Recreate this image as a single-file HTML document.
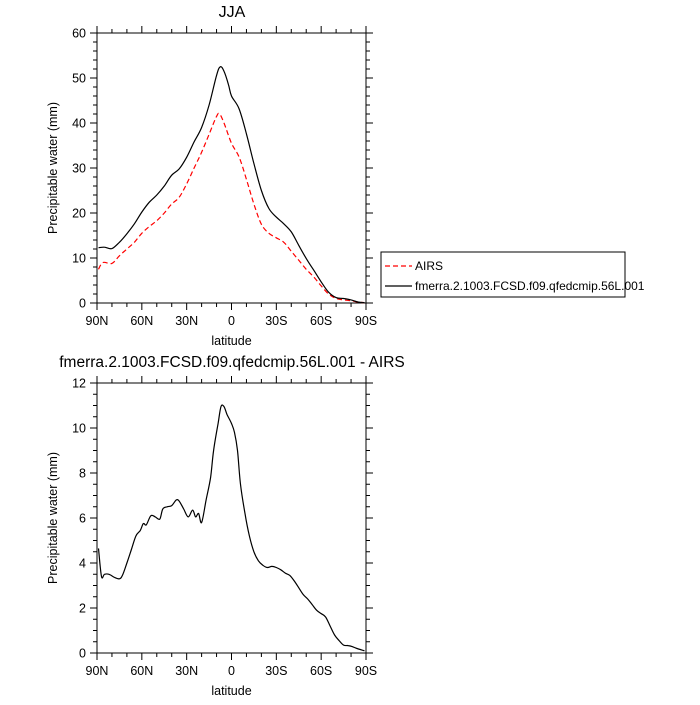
<!DOCTYPE html>
<html><head><meta charset="utf-8"><style>
body{margin:0;background:#fff}
svg text{font-family:"Liberation Sans",sans-serif;fill:#000}
</style></head><body>
<svg id="chart" width="700" height="700" viewBox="0 0 700 700">
<text x="232" y="17" font-size="16" text-anchor="middle">JJA</text>
<text x="232" y="367" font-size="15.5" text-anchor="middle">fmerra.2.1003.FCSD.f09.qfedcmip.56L.001 - AIRS</text>
<g id="top"></g>
<g id="bot"></g>
<g>
<rect x="381" y="252" width="244" height="45" fill="none" stroke="#000" stroke-width="1"/>
<line x1="385" y1="266" x2="412" y2="266" stroke="#f00" stroke-width="1.2" stroke-dasharray="5,3"/>
<text x="415" y="270" font-size="12">AIRS</text>
<line x1="385" y1="286" x2="412" y2="286" stroke="#000" stroke-width="1.2"/>
<text x="415" y="290" font-size="12">fmerra.2.1003.FCSD.f09.qfedcmip.56L.001</text>
</g>
</svg>
<script>
const modelLat=[89,85,80,75,70,65,60,55,50,45,40,35,30,25,20,15,10,7.5,5,2,0,-5,-10,-15,-20,-25,-30,-35,-40,-45,-50,-55,-60,-65,-70,-75,-80,-85,-89];
const modelVal=[12.3,12.4,12.1,13.5,15.4,17.6,20.2,22.4,24,26,28.4,29.8,32.4,35.8,39,44,50.6,52.5,51.5,48.5,46,43.2,37.6,31,25,21,19.1,17.6,15.8,12.8,9.9,7.3,4.7,2.4,1.2,1,0.7,0.2,0.1];
const airsLat=[89,86,80,75,70,65,60,55,50,45,40,35,30,25,20,15,10,8,5,0,-5,-10,-15,-20,-25,-30,-35,-40,-45,-50,-55,-60,-65,-70,-75,-80,-85,-89];
const airsVal=[7.5,9,8.8,10.5,12,13.5,15.5,17,18.3,20,22,23.5,26.5,30,33.5,37.5,41.5,42,40,35.5,32.5,27.5,22,17.5,15.5,14.5,13.5,11.5,9.5,7.5,5.8,3.8,2,1,0.7,0.5,0.2,0.1];
const diffLat=[89,87,85,82,78,75,73,70,67,64,61,59,57,54,51,48,46,43,40,37,35,32,29,26,24,22,20,17,14,12,9,7,5,3,0,-2,-4,-6,-9,-12,-15,-18,-21,-24,-27,-30,-33,-36,-39,-42,-45,-48,-51,-54,-57,-60,-63,-66,-69,-72,-75,-78,-81,-84,-89];
const diffVal=[4.65,3.4,3.5,3.5,3.35,3.3,3.45,4.0,4.6,5.2,5.45,5.75,5.7,6.1,6.05,5.95,6.4,6.5,6.55,6.8,6.75,6.4,6.05,6.35,6.05,6.2,5.8,6.8,7.8,9,10.2,10.95,10.95,10.6,10.2,9.8,9,7.5,6.2,5.2,4.5,4.1,3.9,3.8,3.85,3.8,3.7,3.55,3.45,3.2,2.9,2.6,2.4,2.15,1.9,1.75,1.6,1.2,0.8,0.55,0.35,0.33,0.28,0.2,0.1];
const xTicks=[90,60,30,0,-30,-60,-90];
const xTickLabels=["90N","60N","30N","0","30S","60S","90S"];
const topYTicks=[0,10,20,30,40,50,60];
const botYTicks=[0,2,4,6,8,10,12];
const NS='http://www.w3.org/2000/svg';
function el(p,t,a){const e=document.createElementNS(NS,t);for(const k in a)e.setAttribute(k,a[k]);p.appendChild(e);return e;}
const L=97,R=366;
function xs(lat){return L+(90-lat)/180*(R-L);}
function smoothPath(pts){
  let d='M'+pts[0][0].toFixed(1)+','+pts[0][1].toFixed(1);
  for(let i=0;i<pts.length-1;i++){
    const p0=pts[Math.max(0,i-1)],p1=pts[i],p2=pts[i+1],p3=pts[Math.min(pts.length-1,i+2)];
    const c1x=p1[0]+(p2[0]-p0[0])/6,c1y=p1[1]+(p2[1]-p0[1])/6;
    const c2x=p2[0]-(p3[0]-p1[0])/6,c2y=p2[1]-(p3[1]-p1[1])/6;
    d+=` C${c1x.toFixed(1)},${c1y.toFixed(1)} ${c2x.toFixed(1)},${c2y.toFixed(1)} ${p2[0].toFixed(1)},${p2[1].toFixed(1)}`;
  }
  return d;
}
function panel(g,top,bot,ymax,yTicks,minorStep,series){
  const ys=v=>bot-v/ymax*(bot-top);
  const f=el(g,'rect',{x:L,y:top,width:R-L,height:bot-top,fill:'none',stroke:'#000','stroke-width':1});
  
  
  for(let lat=90;lat>=-90;lat-=10){
    const x=xs(lat),maj=lat%30===0,len=maj?7:4;
    const t1=el(g,'line',{x1:x,y1:bot,x2:x,y2:bot+len,stroke:'#000'});
    
    
    const t2=el(g,'line',{x1:x,y1:top,x2:x,y2:top-len,stroke:'#000'});
    
    
  }
  xTicks.forEach((lat,i)=>{
    const t=el(g,'text',{x:xs(lat),y:bot+22,'font-size':12.5,'text-anchor':'middle'});t.textContent=xTickLabels[i];
    
    
  });
  for(let v=0;v<=ymax+1e-9;v+=minorStep){
    const y=ys(v),maj=yTicks.some(t=>Math.abs(t-v)<1e-6),len=maj?7:4;
    const a=el(g,'line',{x1:L,y1:y,x2:L-len,y2:y,stroke:'#000'});
    
    
    const b=el(g,'line',{x1:R,y1:y,x2:R+len,y2:y,stroke:'#000'});
    
    
  }
  yTicks.forEach(v=>{
    const t=el(g,'text',{x:L-11,y:ys(v)+4.5,'font-size':12.5,'text-anchor':'end'});t.textContent=v;
    
    
  });
  const xl=el(g,'text',{x:(L+R)/2,y:bot+42,'font-size':12.5,'text-anchor':'middle'});xl.textContent='latitude';
  
  
  const yl=el(g,'text',{x:0,y:0,'font-size':12.5,'text-anchor':'middle',transform:`translate(57,${(top+bot)/2}) rotate(-90)`});yl.textContent='Precipitable water (mm)';
  
  
  series.forEach(s=>{
    const pts=s.lat.map((la,i)=>[xs(la),ys(s.val[i])]);
    const p=el(g,'path',{d:smoothPath(pts),fill:'none',stroke:s.color,'stroke-width':1.2});
    if(s.dash)p.setAttribute('stroke-dasharray',s.dash);
    
    
  });
}
panel(document.getElementById('top'),33,303,60,topYTicks,2,[
 {lat:airsLat,val:airsVal,color:'#f00',dash:'5,3',name:'airs-line'},
 {lat:modelLat,val:modelVal,color:'#000',name:'model-line'}]);
panel(document.getElementById('bot'),383,653,12,botYTicks,0.5,[
 {lat:diffLat,val:diffVal,color:'#000',name:'difference-line'}]);
</script>
</body></html>
